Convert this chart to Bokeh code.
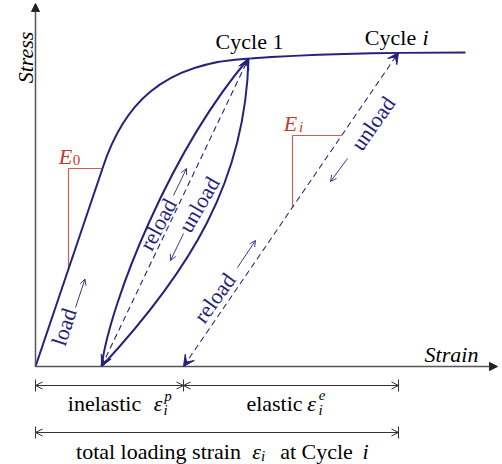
from bokeh.plotting import figure
from bokeh.models import Range1d, Arrow, NormalHead, OpenHead, VeeHead
from bokeh.core.properties import value
from bokeh.embed import file_html
from bokeh.resources import INLINE

# ---- schematic data (diagram units: x = strain to the right, y = pixel rows, downward) ----
ORIGIN = (35, 366)
AXIS_X_END = 497
AXIS_Y_END = 3

# monotonic envelope: straight elastic loading, then two bezier pieces
load_x = [35, 102]
load_y = [366, 168]
env_x0 = [102, 250]; env_y0 = [168, 58]
env_cx0 = [122, 310]; env_cy0 = [106, 53.5]
env_cx1 = [160, 370]; env_cy1 = [62, 52]
env_x1 = [250, 465]; env_y1 = [58, 52]

# cycle 1 hysteresis loop (reload / unload curves)
loop_x0 = [101, 248]; loop_y0 = [366, 58]
loop_cx0 = [110, 245]; loop_cy0 = [300, 180]
loop_cx1 = [170, 190]; loop_cy1 = [150, 270]
loop_x1 = [248, 101]; loop_y1 = [58, 366]

# dashed elastic lines (cycle 1 and cycle i)
dash_x0 = [101, 183]; dash_y0 = [366, 366]
dash_x1 = [248, 398]; dash_y1 = [58, 52]

# modulus triangles
e0_x = [68, 68, 102]; e0_y = [268, 168, 168]
ei_x = [292, 292, 341]; ei_y = [207, 135, 135]

# strain decomposition markers
dim_marks = [35, 183, 398]
dim_row1 = 385
dim_row2 = 432

NAVY = "#26217a"
RED = "#c0392b"
RED_LINE = "#d0604c"
AXIS = "#555555"
DIM = "#333333"
FONT = value("Liberation Serif")

p = figure(width=502, height=464, output_backend="svg", toolbar_location=None,
           x_range=Range1d(0, 502), y_range=Range1d(464, 0),
           x_axis_type=None, y_axis_type=None, min_border=0)
p.xgrid.visible = False
p.ygrid.visible = False
p.outline_line_color = None
p.background_fill_color = "white"
p.border_fill_color = "white"

# axes
p.add_layout(Arrow(x_start=ORIGIN[0], y_start=ORIGIN[1], x_end=ORIGIN[0], y_end=AXIS_Y_END,
                   line_color=AXIS, line_width=1.5,
                   end=NormalHead(size=8, fill_color="#222222", line_color="#222222", line_width=1)))
p.add_layout(Arrow(x_start=ORIGIN[0], y_start=ORIGIN[1], x_end=AXIS_X_END, y_end=ORIGIN[1],
                   line_color=AXIS, line_width=1.5,
                   end=NormalHead(size=8, fill_color="#222222", line_color="#222222", line_width=1)))

# modulus triangles
p.line(e0_x, e0_y, line_color=RED_LINE, line_width=1.2)
p.line(ei_x, ei_y, line_color=RED_LINE, line_width=1.2)

# envelope
p.line(load_x, load_y, line_color=NAVY, line_width=2)
p.bezier(x0=env_x0, y0=env_y0, x1=env_x1, y1=env_y1, cx0=env_cx0, cy0=env_cy0,
         cx1=env_cx1, cy1=env_cy1, line_color=NAVY, line_width=2)
# loop
p.bezier(x0=loop_x0, y0=loop_y0, x1=loop_x1, y1=loop_y1, cx0=loop_cx0, cy0=loop_cy0,
         cx1=loop_cx1, cy1=loop_cy1, line_color=NAVY, line_width=2)

# dashed lines with heads
for i in range(len(dash_x0)):
    p.add_layout(Arrow(x_start=dash_x0[i], y_start=dash_y0[i], x_end=dash_x1[i], y_end=dash_y1[i],
                       line_color=NAVY, line_width=1.1, line_dash="6 4",
                       start=VeeHead(size=11, fill_color=NAVY, line_color=NAVY, line_width=1),
                       end=VeeHead(size=11, fill_color=NAVY, line_color=NAVY, line_width=1)))

# small direction arrows next to labels
lab_ax0 = [75, 173, 183, 237, 347]
lab_ay0 = [307, 195, 233, 267, 158]
lab_ax1 = [84.5, 186, 170, 255, 330]
lab_ay1 = [278.5, 168, 260, 240, 181]
for i in range(len(lab_ax0)):
    p.add_layout(Arrow(x_start=lab_ax0[i], y_start=lab_ay0[i], x_end=lab_ax1[i], y_end=lab_ay1[i],
                       line_color=NAVY, line_width=0.9,
                       end=OpenHead(size=6, line_color=NAVY, line_width=0.9)))

# strain decomposition dimension lines
dims = [(dim_marks[0], dim_marks[1], dim_row1), (dim_marks[1], dim_marks[2], dim_row1),
        (dim_marks[0], dim_marks[2], dim_row2)]
for a, b, yy in dims:
    p.add_layout(Arrow(x_start=a, y_start=yy, x_end=b, y_end=yy, line_color=DIM, line_width=1,
                       start=OpenHead(size=7, line_color=DIM, line_width=1),
                       end=OpenHead(size=7, line_color=DIM, line_width=1)))
p.segment(x0=dim_marks, y0=[dim_row1 - 6] * 3, x1=dim_marks, y1=[dim_row1 + 6] * 3,
          line_color=DIM, line_width=1)
p.segment(x0=[dim_marks[0], dim_marks[2]], y0=[dim_row2 - 6] * 2,
          x1=[dim_marks[0], dim_marks[2]], y1=[dim_row2 + 6] * 2, line_color=DIM, line_width=1)


def txt(x, y, s, size=22, style="normal", color="black", align="center",
        baseline="alphabetic", angle=0):
    p.text(x=[x], y=[y], text=[s], text_font=FONT, text_font_size=f"{size}px",
           text_font_style=style, text_color=color, text_align=align,
           text_baseline=baseline, angle=angle, angle_units="deg")


# axis titles
txt(25, 57, "Stress", style="italic", angle=90)
txt(451, 354, "Strain", style="italic")

# cycle labels
txt(249, 41, "Cycle 1")
txt(390, 37, "Cycle")
txt(425, 37, "i", style="italic")

# moduli
txt(65, 156, "E", style="italic", color=RED)
txt(76, 159, "0", size=15, color=RED)
txt(290, 123, "E", style="italic", color=RED)
txt(300.5, 126, "i", size=15, style="italic", color=RED)

# path labels
txt(63.5, 326.5, "load", color=NAVY, baseline="middle", angle=71.8)
txt(157.5, 224, "reload", color=NAVY, baseline="middle", angle=62)
txt(198.5, 204, "unload", color=NAVY, baseline="middle", angle=60)
txt(214, 297.5, "reload", color=NAVY, baseline="middle", angle=54)
txt(372.5, 123, "unload", color=NAVY, baseline="middle", angle=55)

# strain decomposition labels
txt(104, 403, "inelastic")
txt(157.5, 403, "ε", style="italic")
txt(167.5, 395, "p", size=15, style="italic")
txt(165, 409, "i", size=15, style="italic")
txt(274, 403, "elastic")
txt(311, 403, "ε", style="italic")
txt(321.5, 394, "e", size=15, style="italic")
txt(320, 409, "i", size=15, style="italic")
txt(158, 451, "total loading strain")
txt(256, 451, "ε", style="italic")
txt(262.5, 455, "i", size=15, style="italic")
txt(316, 451, "at Cycle")
txt(365, 451, "i", style="italic")

open("out.html", "w").write(file_html(p, INLINE))
